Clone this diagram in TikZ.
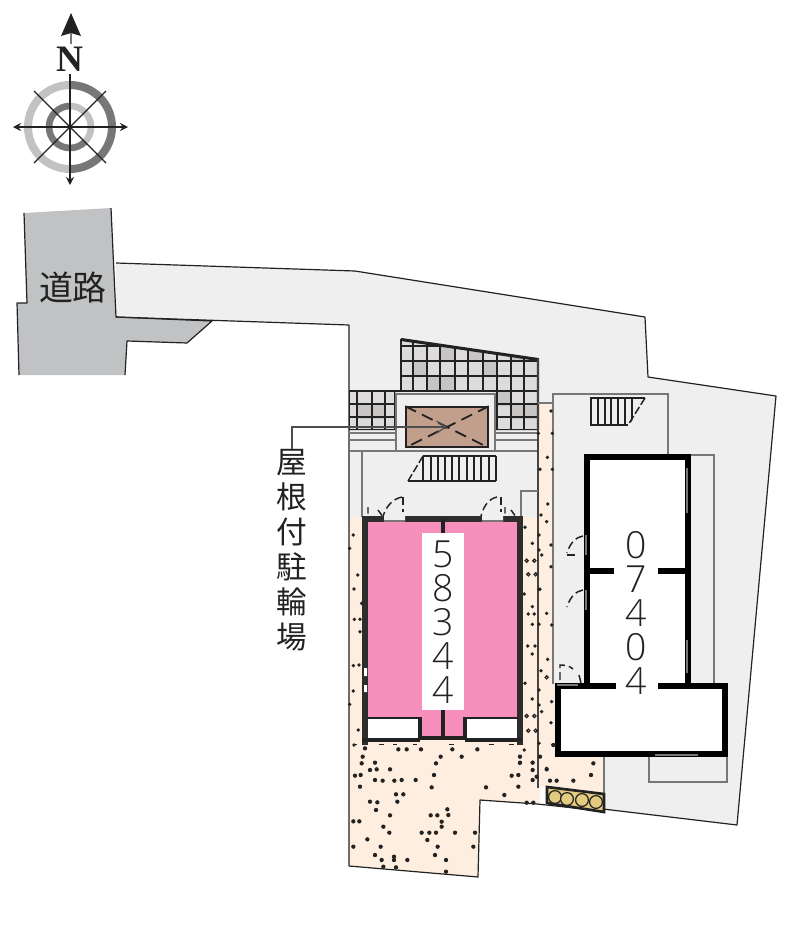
\documentclass[tikz,border=0pt]{standalone}
\usepackage{fontspec}
\setmainfont{Liberation Sans}
\newfontfamily\cjkf{Noto Sans CJK JP}
\newfontfamily\serifbf{Liberation Serif}
\newfontfamily\digitf{Open Sans Light}
\usetikzlibrary{arrows.meta}
\definecolor{sitegrey}{HTML}{EFEFEF}
\definecolor{roadgrey}{HTML}{C0C2C4}
\definecolor{cream}{HTML}{FDEEDF}
\definecolor{pinkroom}{HTML}{F68FBB}
\definecolor{hatchbrown}{HTML}{C19F8C}
\definecolor{tile}{HTML}{DDDBDB}
\definecolor{tiledark}{HTML}{C8C6C4}
\definecolor{ink}{HTML}{222222}
\definecolor{wallgrey}{HTML}{777777}
\definecolor{log}{HTML}{E3CC80}
\tikzset{
  outline/.style={draw=ink,line width=.9pt,line join=round},
  thinwall/.style={draw=wallgrey,line width=1.5pt},
  wall/.style={draw=black,line width=4.2pt,line join=miter},
  softwall/.style={draw=ink!95,line width=4.6pt,line join=miter},
  doorline/.style={draw=ink,line width=1.1pt,dash pattern=on 6pt off 3pt},
  tread/.style={draw=ink,line width=1.1pt},
  grit/.style={fill=ink,draw=none},
  tilegrid/.style={draw=ink,line width=2pt},
  digits/.style={inner sep=0pt,align=center,font=\digitf\fontsize{28}{25.6}\selectfont,text=ink},
  jplabel/.style={inner sep=0pt,align=center,text=ink},
}
\begin{document}
\begin{tikzpicture}[x=.75pt,y=-.75pt]
\useasboundingbox (0,0) rectangle (800,940);
% site
\fill[sitegrey] (116,263)--(355,271)--(645,317)--(648,377)--(776,396)--(737,825)--(603,809)--(603,760)--(349,760)--(349,325)--(116,317)--cycle;
\draw[outline] (116,263)--(355,271)--(645,317)--(648,377)--(776,396)--(737,825)--(603,809);
% road
\fill[roadgrey] (24,213)--(111,208)--(116,317)--(212,321)--(187,343)--(127,341)--(125,375)--(19,375)--(17,303)--(27,303)--cycle;
\draw[outline] (24,213)--(27,303)--(17,303)--(19,375);
\draw[outline] (111,208)--(116,317)--(212,321)--(187,343)--(127,341)--(125,375);
\node[jplabel,font=\cjkf\fontsize{25.5}{25.5}\selectfont] (road) at (73,288) {道路};
% cream ground
\fill[cream] (349,517)--(539,517)--(539,403)--(554,403)--(554,757)--(604,757)--(604,795)--(546,787)--(546,803)--(537,804)--(480,800)--(478,877)--(349,866)--cycle;
\draw[outline] (116,317)--(349,325)--(349,866);
\draw[outline] (349,866)--(478,877)--(480,800)--(537,804);
\draw[outline] (537,804)--(603,811);
\draw[thinwall,line width=1pt] (604,757)--(604,795);
% tiles
\fill[tile] (401,339)--(538,359)--(538,430)--(495,430)--(495,392)--(395,392)--(395,430)--(349,430)--(349,391)--(401,391)--cycle;
\begin{scope}
\clip (401,339)--(538,359)--(538,430)--(495,430)--(495,392)--(395,392)--(395,430)--(349,430)--(349,391)--(401,391)--cycle;
\foreach \a/\b in {413/361,440/376,468/346,483/361,511/346,440/346,427/376,497/391,511/404,357/404,372/404,524/404}
  \fill[tiledark] (\a,\b) rectangle ++(14,15);
\foreach \x in {401,413,427,440,455,468,483,497,511,524,538} \draw[tilegrid] (\x,330)--(\x,392);
\foreach \x in {497,511,524,538} \draw[tilegrid] (\x,392)--(\x,430);
\foreach \x in {349,357,372,385,395} \draw[tilegrid] (\x,390)--(\x,430);
\foreach \y in {346,361,376,391} \draw[tilegrid] (395,\y)--(540,\y);
\foreach \y in {404,417,430} \draw[tilegrid] (345,\y)--(540,\y);
\draw[tilegrid,line width=3pt] (401,339)--(538,359);
\end{scope}
\draw[tilegrid,line width=1.6pt] (401,339)--(538,359)--(538,430);
\draw[tilegrid,line width=1.6pt] (401,339)--(401,391)--(349,391);
% lines under tiles
\foreach \y in {433,440} \draw[draw=wallgrey,line width=1.1pt] (349,\y)--(538,\y);
\draw[thinwall] (349,451)--(538,451);
\draw[thinwall] (362,451)--(362,517);
\draw[thinwall,draw=ink!85] (538,359)--(538,788);
\draw[thinwall] (521,517)--(521,491)--(538,491);
\draw[thinwall] (538,403)--(554,403);
% pit box
\fill[sitegrey,draw=wallgrey,line width=1.3pt] (396,394) rectangle (495,451);
\node[draw=ink,line width=1.2pt,fill=hatchbrown,minimum width=61.5pt,minimum height=30pt,inner sep=0pt] (pit) at (447,427) {};
\draw[draw=ink,line width=1.4pt,dash pattern=on 9pt off 5pt] (pit.north west)--(pit.south east) (pit.north east)--(pit.south west);
\coordinate (pittip) at (pit.center);
% stairs lower
\foreach \x in {423,431,438,445,452,459,467,474,481,489,496} \draw[tread] (\x,456)--(\x,481);
\draw[tread,line width=1.6pt] (423,456)--(496,456) (408,481)--(496,481);
\fill[sitegrey] (408,456)--(423,456)--(408,481)--cycle;
\draw[tread,dash pattern=on 6pt off 2pt] (423,456)--(408,481);
% pink building
\fill[pinkroom] (365,519) rectangle (520,718);
\fill[pinkroom] (420,718) rectangle (465,738);
\fill[white] (368,718) rectangle (420,738) (465,718) rectangle (518,738);
\fill[white] (422,533) rectangle (464,710);
\draw[softwall] (365,745)--(365,519)--(520,519)--(520,745);
\draw[draw=ink,line width=3pt] (362,740)--(420,740) (465,740)--(522,740);
\draw[draw=ink,line width=3pt] (420,740)--(420,717) (465,740)--(465,717);
\draw[draw=ink,line width=1.2pt] (368,718)--(420,718) (465,718)--(518,718);
\draw[draw=ink,line width=3pt] (418,738)--(467,738);
\draw[draw=ink,line width=3pt] (443,519)--(443,533) (443,710)--(443,738);
\fill[sitegrey] (384,515.5) rectangle (405,521) (482,515.5) rectangle (503,521);
\draw[draw=wallgrey,line width=.8pt] (384,521) -- (405,521) (482,521) -- (503,521);
\fill[white] (364,668) rectangle (367,676) (364,685) rectangle (367,692);
\node[digits] (south) at (443,622) {5\\8\\3\\4\\4};
% doors of pink building
\draw[doorline] (403,497)--(403,512);
\draw[doorline] (402,497) .. controls (393,499) and (387,505) .. (383,516);
\draw[doorline,dash pattern=on 5pt off 2pt] (368,507)--(368,517) (378,510)--(383,517);
\draw[doorline] (501,497)--(501,512);
\draw[doorline] (497,497) .. controls (489,499) and (484,505) .. (481,516);
\draw[doorline,dash pattern=on 5pt off 2pt] (505,507)--(505,517) (511,510)--(516,517);
% east block surrounds
\fill[sitegrey] (553,394) rectangle (668,455);
\fill[sitegrey] (553,394) rectangle (585,684);
\fill[sitegrey] (690,455) rectangle (714,684);
\draw[thinwall] (553,684)--(553,394)--(668,394)--(668,455);
\draw[thinwall] (690,455)--(714,455)--(714,684);
\draw[thinwall] (649,757)--(649,782)--(727,782)--(727,757);
% upper stairs
\foreach \x in {591,598,605,611,618,625,632} \draw[tread] (\x,398)--(\x,425);
\fill[sitegrey] (645,398)--(645,428)--(628,428)--cycle;
\draw[tread,line width=1.6pt] (590,398)--(645,398) (590,425)--(628,425);
\draw[tread,dash pattern=on 6pt off 2pt] (645,398)--(628,425);
% east building
\fill[white] (587,457) rectangle (688,686);
\fill[white] (558,686) rectangle (725,754);
\draw[wall] (587,686)--(587,457)--(688,457)--(688,686);
\draw[wall] (558,686)--(558,754)--(725,754)--(725,686)--(658,686);
\draw[wall] (555,686)--(616,686);
\draw[wall] (587,571)--(614,571) (658,571)--(688,571);
\draw[draw=white,line width=1.5pt] (687,468)--(687,513) (687,640)--(687,673);
\draw[draw=wallgrey,line width=1.4pt] (687,468)--(687,513) (687,640)--(687,673);
\draw[draw=wallgrey,line width=1.5pt] (655,755)--(698,755);
\draw[draw=wallgrey,line width=2pt] (586,535)--(586,555) (586,590)--(586,610);
\draw[draw=wallgrey,line width=2pt] (557,685)--(578,685);
\node[digits] (east) at (636,613) {0\\7\\4\\0\\4};
% doors of east building
\draw[doorline] (583,536) .. controls (576,537) and (570,543) .. (567,553);
\draw[doorline] (567,555)--(578,555);
\draw[doorline] (583,590) .. controls (576,591) and (570,597) .. (567,607);
\draw[doorline] (560,680)--(560,665) .. controls (565,665) and (570,666) .. (573,669);
\draw[doorline] (579,675)--(581,683);
% log edging
\fill[white] (540,787) rectangle (546,803);
\fill[log,draw=ink,line width=2pt] (547,787)--(604,794)--(604,812)--(547,803)--cycle;
\foreach \x/\y in {555/797,567/799,582/800,596/802} \fill[log,draw=ink,line width=.9pt] (\x,\y) circle (6.4);
% gravel
\begin{scope}[shift={(340,660)},x=.25pt,y=-.25pt]
\foreach \x/\y in {75/265,68/290,65/310,105/308,90/330,110/328,150/328,45/347,62/345,105/360,128/362,163/362,185/360,227/360,282/345,60/380,275/382,168/403,190/403,172/425,90/425,112/427,108/450,150/466,272/466,292/466,325/465,322/448,40/484,58/484,130/500,148/518,245/518,268/518,288/518,345/518,305/485,305/500,262/540,82/538,40/560,122/560,293/560,400/560,405/518,105/585,125/600,162/590,162/600,202/600,285/585,318/600,130/620,168/622,318/635,175/268,200/268,243/268,337/268,412/268,365/290,302/290,288/310,540/290,540/308,578/308,578/330,590/350,515/347,535/345,578/360,535/380,438/382,493/405,560/428,580/428,620/328,760/310,753/345,700/362,650/362,630/362,640/255,600/290}
  \fill[grit] (\x,\y) circle (6.5);
\foreach \x in {45,125,165,225,335,455,515,640}
  \fill[grit] (\x-7,252) rectangle (\x+7,256);
\end{scope}
\foreach \x/\y in {108/33,70/100,112/100,97/172,75/208,112/208,98/312,78/345,95/365,30/382,52/430,72/405,108/435,72/450,80/465,108/500,75/568}
  \fill[grit] (515+\x/3,400+\y/3) circle (1.9);
\foreach \x/\y in {35/482,58/482,40/523,62/523}
  \draw[draw=ink,line width=.9pt] (515+\x/3,400+\y/3) circle (1.6);
\foreach \x/\y in {28/42,72/28,52/80,95/100,40/102,58/102,52/133,72/133,110/135,38/198,60/198,52/222,98/238,78/272,30/310,72/330,52/357,110/365,72/375,80/395,108/428,72/490,28/510,14/530,14/550,52/547,95/565}
  \fill[grit] (515+\x/3,580+\y/3) circle (1.9);
\foreach \x/\y in {95/292,35/408,58/408,40/452,62/452}
  \draw[draw=ink,line width=.9pt] (515+\x/3,580+\y/3) circle (1.6);
\foreach \x/\y in {25/75,14/115,38/195,27/237,50/280,28/328,45/328,45/365,25/467,42/465,25/543,14/583,40/660,27/705}
  \fill[grit] (345+\x/3,510+\y/3) circle (1.9);
% compass
\begin{scope}[shift={(70,127)},x=.75pt,y=.75pt]
\draw[line width=6pt,roadgrey] (0,42) arc (90:270:42);
\draw[line width=6pt,wallgrey] (0,42) arc (90:-90:42);
\draw[line width=5pt,wallgrey] (0,21) arc (90:315:21);
\draw[line width=5pt,roadgrey] (0,21) arc (90:-45:21);
\draw[ink,line width=1pt] (-36,36)--(36,-36) (-36,-36)--(36,36);
\fill[ink] (0,0) circle (2.5);
\draw[ink,line width=1pt,-{Stealth[length=6pt,width=6pt]}] (0,53)--(0,-58);
\draw[ink,line width=1pt,{Stealth[length=6pt,width=6pt]}-{Stealth[length=6pt,width=6pt]}] (-57,0)--(58,0);
\end{scope}
\node[inner sep=0pt,text=ink,font=\serifbf\bfseries\fontsize{28}{28}\selectfont] (north) at (70,59) {N};
\coordinate (ntip) at (71,13);
\fill[ink] (ntip)--(81,36)--(71,33)--(61,36)--cycle;
\draw[draw=wallgrey,line width=1.2pt] (71,33)--(71,44);
% bicycle label and leader
\node[jplabel,font=\cjkf\fontsize{23}{26.2}\selectfont] (bike) at (292,550) {屋\\根\\付\\駐\\輪\\場};
\draw[draw=ink!80,line width=.9pt,-{Straight Barb[length=7pt,width=9pt]}] (bike.north) |- (pittip);
\end{tikzpicture}
\end{document}
